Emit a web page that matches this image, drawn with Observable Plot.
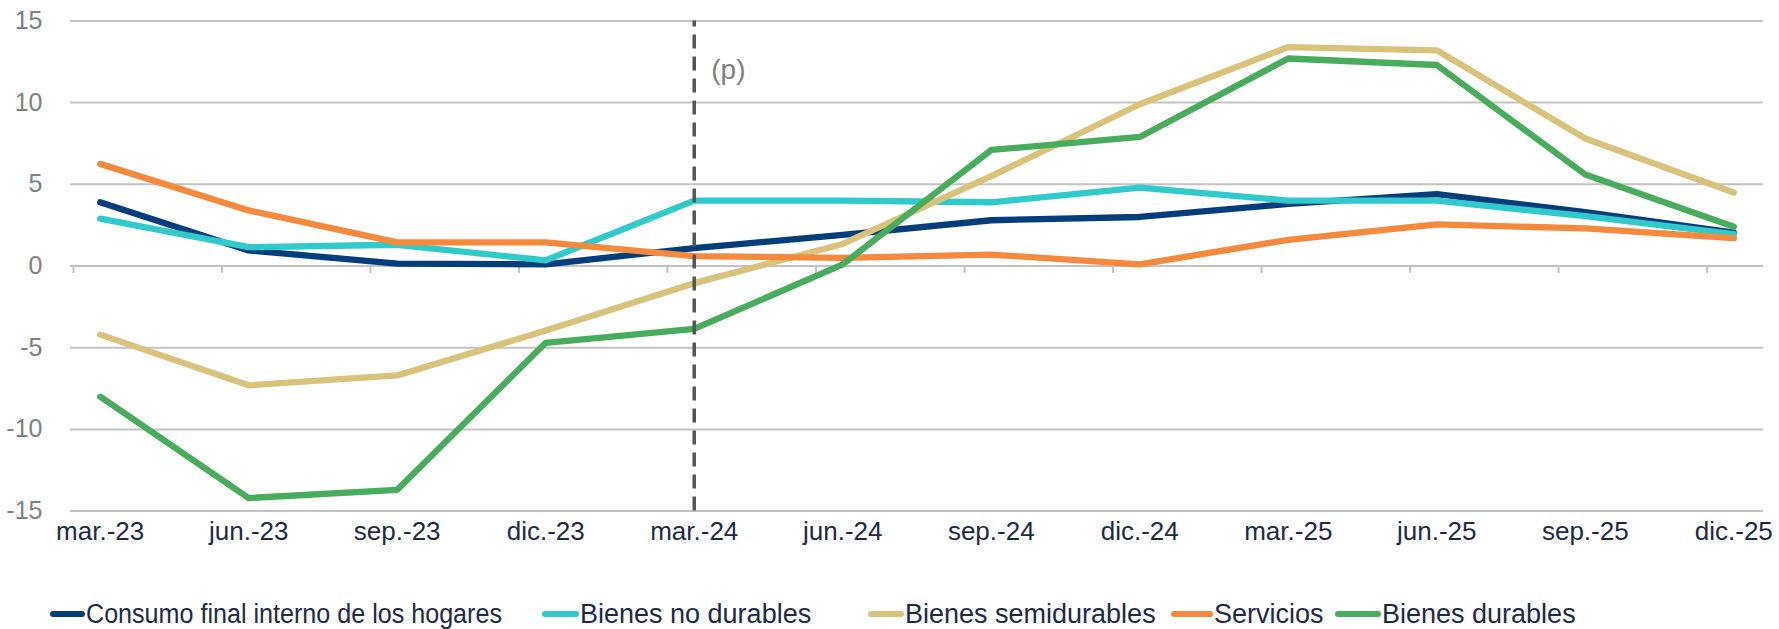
<!DOCTYPE html>
<html>
<head>
<meta charset="utf-8">
<script src="https://cdn.jsdelivr.net/npm/d3@7"></script>
<script src="https://cdn.jsdelivr.net/npm/@observablehq/plot@0.6"></script>
<style>
  html, body { margin: 0; padding: 0; background: #ffffff; }
  #wrap { width: 1779px; height: 629px; position: relative; overflow: hidden; font-family: "Liberation Sans", Arial, sans-serif; }
  #legend { position: relative; width: 1779px; height: 69px; }
  .sw { position: absolute; top: 51px; height: 6px; border-radius: 3px; }
  .tx { position: absolute; top: 38px; height: 32px; line-height: 32px; font-size: 27px; color: #1c2a48; white-space: nowrap; transform-origin: left center; }
</style>
</head>
<body>
<div id="wrap"><div id="chart"></div><div id="legend"></div></div>
<script>
const labels = ["mar.-23","jun.-23","sep.-23","dic.-23","mar.-24","jun.-24","sep.-24","dic.-24","mar.-25","jun.-25","sep.-25","dic.-25"];
const yTicks = [-15, -10, -5, 0, 5, 10, 15];

const seriesNames = ["Consumo final interno de los hogares", "Bienes no durables", "Bienes semidurables", "Servicios", "Bienes durables"];
const seriesColors = ["#033d7c", "#2ecacc", "#d9c279", "#f58a3d", "#47ad5d"];

const consumo      = [3.9, 0.95, 0.15, 0.1, 1.1, 1.9, 2.8, 3.0, 3.8, 4.4, 3.3, 2.05];
const noDurables   = [2.9, 1.15, 1.3, 0.35, 4.0, 4.0, 3.9, 4.8, 4.0, 4.0, 3.05, 1.95];
const semidurables = [-4.2, -7.3, -6.7, -3.95, -1.05, 1.35, 5.5, 9.9, 13.4, 13.2, 7.8, 4.5];
const servicios    = [6.25, 3.4, 1.45, 1.45, 0.6, 0.5, 0.7, 0.1, 1.6, 2.55, 2.3, 1.7];
const durables     = [-8.0, -14.2, -13.7, -4.7, -3.85, 0.1, 7.1, 7.9, 12.7, 12.3, 5.6, 2.4];

const projectedFrom = "mar.-24";
const projectedLabel = "(p)";

const seriesValues = [consumo, noDurables, semidurables, servicios, durables];
const idx = labels.map((d, i) => i);
const tickOffset = 0.18;
const framePad = 0.2;
const tickPos = idx.map(i => i - tickOffset);

const lineMarks = seriesValues.map((vals, s) =>
  Plot.line(vals.map((v, i) => ({i, v})), {
    x: "i", y: "v", stroke: seriesColors[s], strokeWidth: 6.3,
    strokeLinejoin: "round", strokeLinecap: "round"
  })
);

const chart = Plot.plot({
  width: 1779,
  height: 560,
  marginLeft: 70,
  marginRight: 16,
  marginTop: 20.4,
  marginBottom: 49.4,
  style: { fontFamily: "'Liberation Sans', Arial, sans-serif", background: "#ffffff" },
  x: { domain: [-framePad, labels.length - 1 + framePad] },
  y: { domain: [-15, 15] },
  marks: [
    Plot.ruleY(yTicks, { stroke: "#c3c3c3", strokeWidth: 2 }),
    Plot.ruleX(tickPos, { y1: 0, y2: -0.45, stroke: "#c3c3c3", strokeWidth: 2 }),
    Plot.axisY({ ticks: yTicks, tickSize: 0, tickPadding: 28, fontSize: 25, fill: "#808080", label: null, tickFormat: d => String(d) }),
    Plot.axisX({ ticks: idx, tickSize: 0, tickPadding: 10, fontSize: 26, fill: "#1c2a48", label: null, tickFormat: i => labels[i] }),
    ...lineMarks,
    Plot.ruleX([labels.indexOf(projectedFrom)], { y1: -15, y2: 15, stroke: "#555555", strokeWidth: 3.5, strokeDasharray: "14,8" }),
    Plot.text([projectedLabel], { x: labels.indexOf(projectedFrom), y: 12, dx: 17, text: d => d, textAnchor: "start", fontSize: 28, fill: "#7f7f7f" })
  ]
});
document.getElementById("chart").appendChild(chart);

const textX = [86, 580, 905, 1214, 1382];
const swatchW = [35, 37, 36, 42, 46];
const textScale = [0.93, 1, 1, 1, 1];
const legend = document.getElementById("legend");
seriesNames.forEach((name, s) => {
  const sw = document.createElement("div");
  sw.className = "sw";
  sw.style.left = (textX[s] - swatchW[s] - 1) + "px";
  sw.style.width = swatchW[s] + "px";
  sw.style.background = seriesColors[s];
  const tx = document.createElement("div");
  tx.className = "tx";
  tx.style.left = textX[s] + "px";
  tx.style.transform = "scaleX(" + textScale[s] + ")";
  tx.textContent = name;
  legend.appendChild(sw);
  legend.appendChild(tx);
});
</script>
</body>
</html>
